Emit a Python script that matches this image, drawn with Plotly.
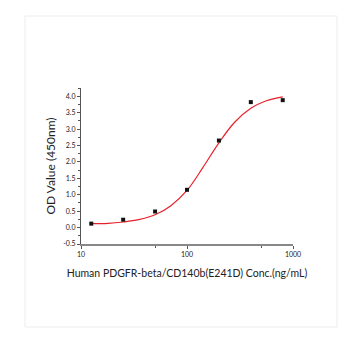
import plotly.graph_objects as go

# Measured points
conc = [12.5, 25, 50, 100, 200, 400, 800]
od = [0.12, 0.24, 0.49, 1.15, 2.65, 3.82, 3.88]

# Fitted curve
curve_x = [12.5, 18, 25, 35, 50, 70, 100, 140, 200, 280, 400, 560, 800]
curve_y = [0.12, 0.13, 0.17, 0.24, 0.39, 0.66, 1.13, 1.81, 2.58, 3.20, 3.63, 3.86, 3.98]

x_ticks = [10, 100, 1000]
x_ticktext = ["10", "100", "1000"]
y_ticks = [-0.5, 0.0, 0.5, 1.0, 1.5, 2.0, 2.5, 3.0, 3.5, 4.0]
y_ticktext = ["-0.5", "0.0", "0.5", "1.0", "1.5", "2.0", "2.5", "3.0", "3.5", "4.0"]

W, H = 360, 341
L, R, T, B = 81, 67, 88, 97
pw, ph = W - L - R, H - T - B

fig = go.Figure()
fig.add_trace(go.Scatter(x=curve_x, y=curve_y, mode="lines",
                         line=dict(color="#e8202a", width=1.2, shape="spline"),
                         showlegend=False, hoverinfo="skip"))
fig.add_trace(go.Scatter(x=conc, y=od, mode="markers",
                         marker=dict(symbol="square", size=4, color="#111111"),
                         showlegend=False))

font = "Lato, 'Open Sans', sans-serif"
fig.update_layout(
    width=W, height=H,
    margin=dict(l=L, r=R, t=T, b=B),
    paper_bgcolor="white", plot_bgcolor="white",
    font=dict(family=font, color="#222222"),
    shapes=[dict(type="rect", xref="paper", yref="paper",
                 x0=(25 - L) / pw, x1=(337 - L) / pw,
                 y0=(H - B - 327) / ph, y1=(H - B - 16) / ph,
                 line=dict(color="#ececec", width=1), layer="below")],
    xaxis=dict(type="log", range=[1, 3.0], tickvals=x_ticks, ticktext=x_ticktext,
               ticks="outside", ticklen=3, tickcolor="#555555",
               showline=True, linecolor="#888888", linewidth=2,
               showgrid=False, zeroline=False,
               tickfont=dict(size=7, color="#222222"),
               minor=dict(tickvals=[50, 500], ticks="outside", ticklen=2, tickcolor="#555555"),
               title=dict(text="Human PDGFR-beta/CD140b(E241D) Conc.(ng/mL)",
                          font=dict(size=10.5, color="#222222"), standoff=12)),
    yaxis=dict(range=[-0.5, 4.25], tickvals=y_ticks, ticktext=y_ticktext,
               ticks="outside", ticklen=3, tickcolor="#555555",
               showline=True, linecolor="#555555", linewidth=1,
               showgrid=False, zeroline=False,
               tickfont=dict(size=7, color="#222222"),
               minor=dict(dtick=0.25, ticks="outside", ticklen=2, tickcolor="#555555"),
               title=dict(text="OD Value (450nm)", font=dict(size=12, color="#222222"),
                          standoff=5)),
)
fig.write_html("out.html")
